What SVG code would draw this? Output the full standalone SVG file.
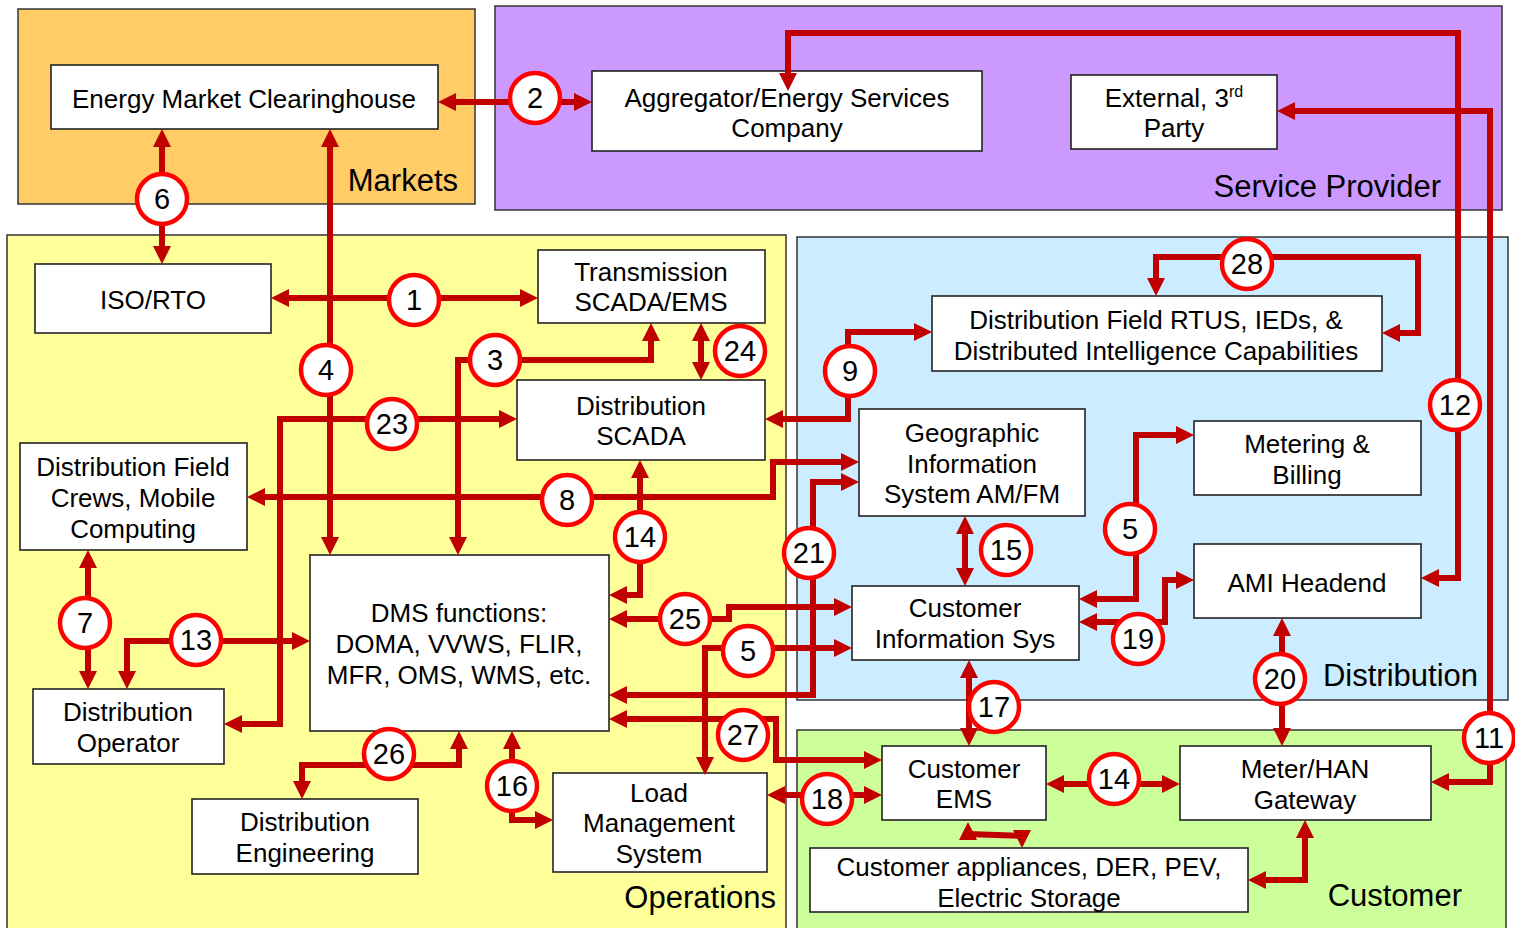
<svg xmlns="http://www.w3.org/2000/svg" width="1515" height="928" viewBox="0 0 1515 928">
  <style>
    .region { stroke: #333333; stroke-width: 1.5; }
    .box { fill: #ffffff; stroke: #222222; stroke-width: 1.6; }
    .lbl { font-family: "Liberation Sans", Arial, sans-serif; font-size: 26px; fill: #000000; text-anchor: middle; }
    .zone { font-family: "Liberation Sans", Arial, sans-serif; font-size: 31px; fill: #000000; text-anchor: end; }
    .conn { fill: none; stroke: #C00000; stroke-width: 6; stroke-linejoin: miter; marker-start: url(#arrS); marker-end: url(#arrE); }
    .badge circle { fill: #ffffff; stroke: #FF0000; stroke-width: 4.5; }
    .badge text { font-family: "Liberation Sans", Arial, sans-serif; font-size: 29px; fill: #000000; text-anchor: middle; }
  </style>
  <defs>
    <marker id="arrE" viewBox="0 0 18 18" refX="8" refY="9" markerWidth="18" markerHeight="18" markerUnits="userSpaceOnUse" orient="auto">
      <path d="M0,0 L18,9 L0,18 z" fill="#C00000"/>
    </marker>
    <marker id="arrS" viewBox="0 0 18 18" refX="8" refY="9" markerWidth="18" markerHeight="18" markerUnits="userSpaceOnUse" orient="auto-start-reverse">
      <path d="M0,0 L18,9 L0,18 z" fill="#C00000"/>
    </marker>
  </defs>

  <rect width="1515" height="928" fill="#ffffff"/>

  <!-- domain areas -->
  <g id="domains">
    <rect class="region" x="18" y="9" width="457" height="195" fill="#FFCC66"/>
    <rect class="region" x="495" y="6" width="1007" height="204" fill="#CC99FF"/>
    <rect class="region" x="7" y="235" width="779" height="710" fill="#FFFF99"/>
    <rect class="region" x="797" y="237" width="711" height="463" fill="#CCECFF"/>
    <rect class="region" x="797" y="730" width="709" height="215" fill="#CCFF99"/>
    <text class="zone" x="458" y="191">Markets</text>
    <text class="zone" x="1441" y="197">Service Provider</text>
    <text class="zone" x="776" y="908">Operations</text>
    <text class="zone" x="1478" y="686">Distribution</text>
    <text class="zone" x="1462" y="906">Customer</text>
  </g>

  <!-- systems -->
  <g id="energy-market-clearinghouse">
    <rect class="box" x="51" y="65" width="387" height="64"/>
    <text class="lbl" x="244" y="108">Energy Market Clearinghouse</text>
  </g>
  <g id="aggregator">
    <rect class="box" x="592" y="71" width="390" height="80"/>
    <text class="lbl" x="787" y="107">Aggregator/Energy Services</text>
    <text class="lbl" x="787" y="137">Company</text>
  </g>
  <g id="external-third-party">
    <rect class="box" x="1071" y="75" width="206" height="74"/>
    <text class="lbl" x="1174" y="107">External, 3<tspan font-size="16" dy="-10">rd</tspan></text>
    <text class="lbl" x="1174" y="137">Party</text>
  </g>
  <g id="iso-rto">
    <rect class="box" x="35" y="264" width="236" height="69"/>
    <text class="lbl" x="153" y="309">ISO/RTO</text>
  </g>
  <g id="transmission-scada">
    <rect class="box" x="538" y="250" width="227" height="73"/>
    <text class="lbl" x="651" y="281">Transmission</text>
    <text class="lbl" x="651" y="311">SCADA/EMS</text>
  </g>
  <g id="distribution-scada">
    <rect class="box" x="517" y="380" width="248" height="80"/>
    <text class="lbl" x="641" y="415">Distribution</text>
    <text class="lbl" x="641" y="445">SCADA</text>
  </g>
  <g id="field-crews">
    <rect class="box" x="20" y="443" width="227" height="107"/>
    <text class="lbl" x="133" y="476">Distribution Field</text>
    <text class="lbl" x="133" y="507">Crews, Mobile</text>
    <text class="lbl" x="133" y="538">Computing</text>
  </g>
  <g id="dms-functions">
    <rect class="box" x="310" y="555" width="299" height="176"/>
    <text class="lbl" x="459" y="622">DMS functions:</text>
    <text class="lbl" x="459" y="653">DOMA, VVWS, FLIR,</text>
    <text class="lbl" x="459" y="684">MFR, OMS, WMS, etc.</text>
  </g>
  <g id="distribution-operator">
    <rect class="box" x="33" y="689" width="191" height="75"/>
    <text class="lbl" x="128" y="721">Distribution</text>
    <text class="lbl" x="128" y="752">Operator</text>
  </g>
  <g id="distribution-engineering">
    <rect class="box" x="192" y="799" width="226" height="75"/>
    <text class="lbl" x="305" y="831">Distribution</text>
    <text class="lbl" x="305" y="862">Engineering</text>
  </g>
  <g id="load-management">
    <rect class="box" x="553" y="773" width="214" height="99"/>
    <text class="lbl" x="659" y="802">Load</text>
    <text class="lbl" x="659" y="832">Management</text>
    <text class="lbl" x="659" y="863">System</text>
  </g>
  <g id="field-rtus">
    <rect class="box" x="932" y="296" width="450" height="75"/>
    <text class="lbl" x="1156" y="329">Distribution Field RTUS, IEDs, &amp;</text>
    <text class="lbl" x="1156" y="360">Distributed Intelligence Capabilities</text>
  </g>
  <g id="gis">
    <rect class="box" x="859" y="409" width="226" height="107"/>
    <text class="lbl" x="972" y="442">Geographic</text>
    <text class="lbl" x="972" y="473">Information</text>
    <text class="lbl" x="972" y="503">System AM/FM</text>
  </g>
  <g id="metering-billing">
    <rect class="box" x="1194" y="421" width="227" height="74"/>
    <text class="lbl" x="1307" y="453">Metering &amp;</text>
    <text class="lbl" x="1307" y="484">Billing</text>
  </g>
  <g id="ami-headend">
    <rect class="box" x="1194" y="544" width="227" height="74"/>
    <text class="lbl" x="1307" y="592">AMI Headend</text>
  </g>
  <g id="customer-information">
    <rect class="box" x="852" y="586" width="227" height="74"/>
    <text class="lbl" x="965" y="617">Customer</text>
    <text class="lbl" x="965" y="648">Information Sys</text>
  </g>
  <g id="customer-ems">
    <rect class="box" x="882" y="746" width="164" height="74"/>
    <text class="lbl" x="964" y="778">Customer</text>
    <text class="lbl" x="964" y="808">EMS</text>
  </g>
  <g id="meter-han-gateway">
    <rect class="box" x="1180" y="746" width="251" height="74"/>
    <text class="lbl" x="1305" y="778">Meter/HAN</text>
    <text class="lbl" x="1305" y="809">Gateway</text>
  </g>
  <g id="customer-appliances">
    <rect class="box" x="810" y="848" width="438" height="64"/>
    <text class="lbl" x="1029" y="876">Customer appliances, DER, PEV,</text>
    <text class="lbl" x="1029" y="907">Electric Storage</text>
  </g>

  <!-- interfaces -->
  <g id="connectors">
    <path class="conn" d="M281,298 L528,298"/>
    <path class="conn" d="M448,102 L582,102"/>
    <path class="conn" d="M651,333 L651,360 L458,360 L458,545"/>
    <path class="conn" d="M330,139 L330,545"/>
    <path class="conn" d="M1089,599 L1136,599 L1136,435 L1184,435"/>
    <path class="conn" d="M705,765 L705,648 L842,648"/>
    <path class="conn" d="M162,139 L162,254"/>
    <path class="conn" d="M88,560 L88,679"/>
    <path class="conn" d="M257,497 L773,497 L773,462 L849,462"/>
    <path class="conn" d="M775,419 L848,419 L848,332 L922,332"/>
    <path class="conn" d="M1287,111 L1490,111 L1490,782 L1441,782"/>
    <path class="conn" d="M788,81 L788,33 L1458,33 L1458,578 L1431,578"/>
    <path class="conn" d="M127,679 L127,641 L300,641"/>
    <path class="conn" d="M640,470 L640,595 L619,595"/>
    <path class="conn" d="M1056,784 L1170,784"/>
    <path class="conn" d="M965,526 L965,576"/>
    <path class="conn" d="M512,741 L512,820 L543,820"/>
    <path class="conn" d="M969,670 L969,736"/>
    <path class="conn" d="M777,795 L872,795"/>
    <path class="conn" d="M1089,622 L1165,622 L1165,580 L1184,580"/>
    <path class="conn" d="M1282,628 L1282,736"/>
    <path class="conn" d="M619,695 L813,695 L813,482 L849,482"/>
    <path class="conn" d="M507,419 L280,419 L280,724 L234,724"/>
    <path class="conn" d="M701,333 L701,370"/>
    <path class="conn" d="M619,619 L729,619 L729,607 L842,607"/>
    <path class="conn" d="M459,741 L459,765 L302,765 L302,789"/>
    <path class="conn" d="M619,719 L776,719 L776,760 L872,760"/>
    <path class="conn" d="M1156,286 L1156,257 L1418,257 L1418,333 L1392,333"/>
    <path class="conn" d="M968,832 L968,834 L1022,836 L1022,838"/>
    <path class="conn" d="M1305,830 L1305,880 L1258,880"/>
  </g>

  <!-- interface numbers -->
  <g id="interface-numbers" class="badge">
    <g><circle cx="414" cy="300" r="25"/><text x="414" y="310">1</text></g>
    <g><circle cx="535" cy="98" r="25"/><text x="535" y="108">2</text></g>
    <g><circle cx="495" cy="360" r="25"/><text x="495" y="370">3</text></g>
    <g><circle cx="326" cy="370" r="25"/><text x="326" y="380">4</text></g>
    <g><circle cx="748" cy="651" r="25"/><text x="748" y="661">5</text></g>
    <g><circle cx="1130" cy="529" r="25"/><text x="1130" y="539">5</text></g>
    <g><circle cx="162" cy="199" r="25"/><text x="162" y="209">6</text></g>
    <g><circle cx="85" cy="623" r="25"/><text x="85" y="633">7</text></g>
    <g><circle cx="567" cy="500" r="25"/><text x="567" y="510">8</text></g>
    <g><circle cx="850" cy="371" r="25"/><text x="850" y="381">9</text></g>
    <g><circle cx="1489" cy="738" r="25"/><text x="1489" y="748">11</text></g>
    <g><circle cx="1455" cy="405" r="25"/><text x="1455" y="415">12</text></g>
    <g><circle cx="196" cy="640" r="25"/><text x="196" y="650">13</text></g>
    <g><circle cx="640" cy="537" r="25"/><text x="640" y="547">14</text></g>
    <g><circle cx="1114" cy="779" r="25"/><text x="1114" y="789">14</text></g>
    <g><circle cx="1006" cy="550" r="25"/><text x="1006" y="560">15</text></g>
    <g><circle cx="512" cy="786" r="25"/><text x="512" y="796">16</text></g>
    <g><circle cx="994" cy="707" r="25"/><text x="994" y="717">17</text></g>
    <g><circle cx="827" cy="799" r="25"/><text x="827" y="809">18</text></g>
    <g><circle cx="1138" cy="639" r="25"/><text x="1138" y="649">19</text></g>
    <g><circle cx="1280" cy="679" r="25"/><text x="1280" y="689">20</text></g>
    <g><circle cx="809" cy="553" r="25"/><text x="809" y="563">21</text></g>
    <g><circle cx="392" cy="424" r="25"/><text x="392" y="434">23</text></g>
    <g><circle cx="740" cy="351" r="25"/><text x="740" y="361">24</text></g>
    <g><circle cx="685" cy="619" r="25"/><text x="685" y="629">25</text></g>
    <g><circle cx="389" cy="754" r="25"/><text x="389" y="764">26</text></g>
    <g><circle cx="743" cy="735" r="25"/><text x="743" y="745">27</text></g>
    <g><circle cx="1247" cy="264" r="25"/><text x="1247" y="274">28</text></g>
  </g>
</svg>
